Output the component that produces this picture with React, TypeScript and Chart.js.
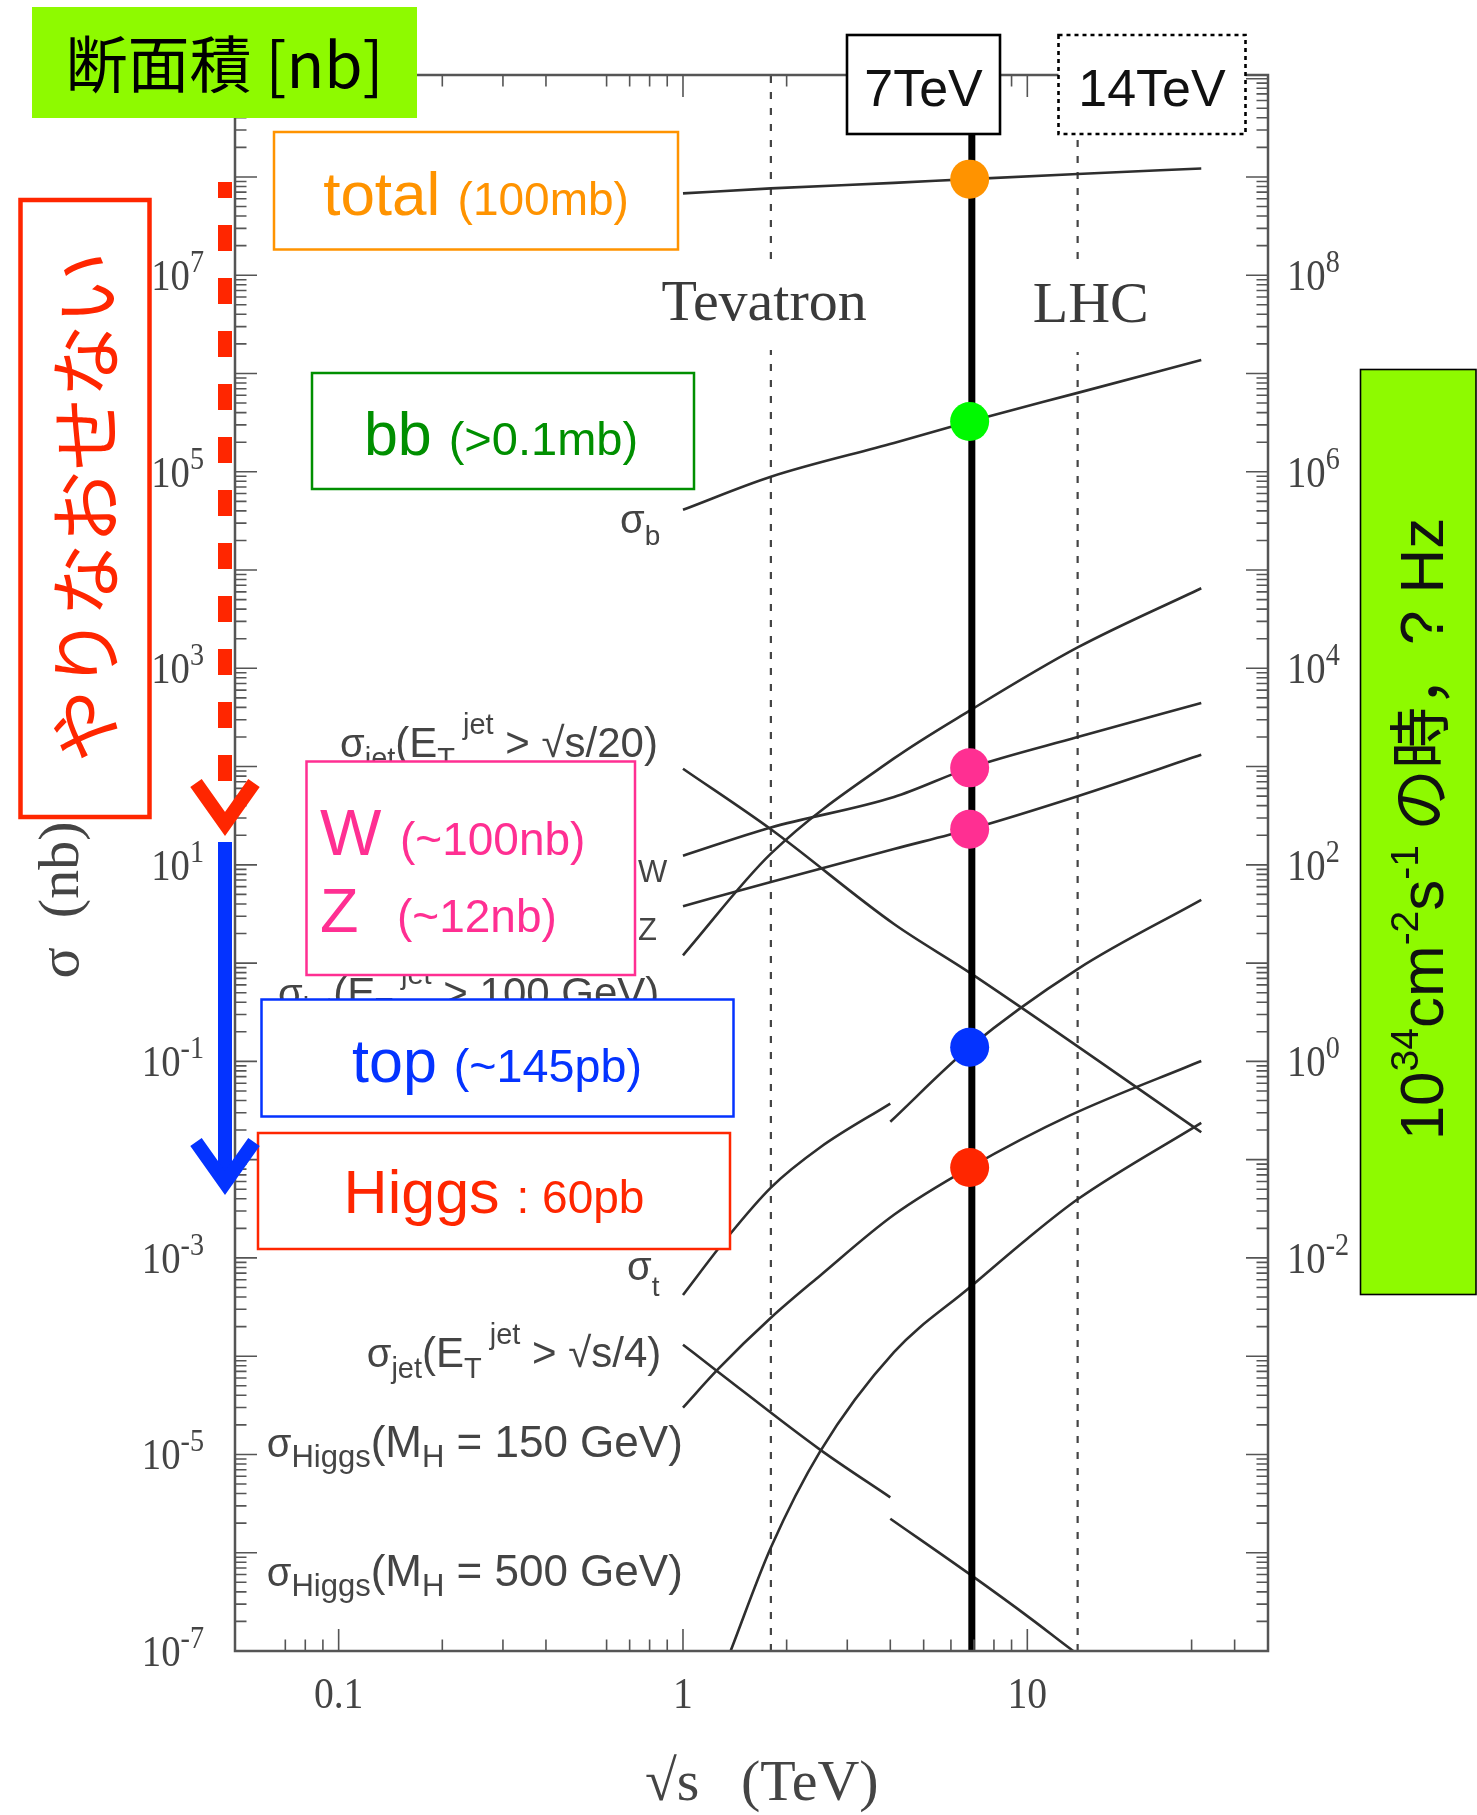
import React, { useEffect, useRef } from 'react';
import { Chart, registerables } from 'chart.js';

Chart.register(...registerables);

const W = 1477;
const H = 1815;

// ---------- axes ----------
const X_MIN = 0.05;
const X_MAX = 50;
const Y_MIN = 1e-7;
const Y_MAX = 1.09e9;
const xTickValues = [0.07, 0.08, 0.09, 0.1, 0.2, 0.3, 0.4, 0.6, 0.7, 0.8, 0.9, 1, 2, 3, 4, 5, 6, 7, 8, 9, 10, 30, 40];
const xMajorValues = [0.1, 1, 10];
const xTickLabels = ['0.1', '1', '10'];
const yLeftLabelExps = [7, 5, 3, 1, -1, -3, -5, -7];
const yRightLabelExps = [8, 6, 4, 2, 0, -2];
const rateFactor = 10; // Hz per nb at 10^34 cm^-2 s^-1

// ---------- reference energies (TeV) ----------
const tevatronEnergy = 1.8;
const lhcDesignEnergy = 14;
const lhcRunEnergy = 6.9;

// ---------- cross-section curves (sqrt(s) in TeV, sigma in nb) ----------
const totalX = [1, 1.8, 4.1, 6.8, 14, 32];
const totalY = [6.8e7, 7.65e7, 8.7e7, 9.5e7, 1.07e8, 1.22e8];

const bottomX = [1, 1.8, 4.1, 6.8, 14, 32];
const bottomY = [4.1e4, 8.9e4, 1.96e5, 3.24e5, 6.35e5, 1.37e6];

const jetLowX = [1, 1.8, 4.1, 6.8, 32];
const jetLowY = [95, 23, 2.5, 0.8, 0.019];

const wX = [1, 1.8, 4.1, 6.8, 14, 32];
const wY = [12.4, 24, 49, 97, 200, 444];

const zX = [1, 1.8, 4.1, 6.8, 14, 32];
const zY = [3.8, 6.7, 14.5, 23, 50, 132];

const jet100X = [1, 1.8, 4.1, 6.8, 14, 32];
const jet100Y = [1.2, 13, 121, 371, 1630, 6530];

const topPpbarX = [1, 1.33, 1.8, 2.5, 4.0];
const topPpbarY = [4.2e-4, 1.54e-3, 5.2e-3, 0.0133, 0.0372];
const topPpX = [4.0, 6.8, 14, 32];
const topPpY = [0.0243, 0.139, 0.87, 4.4];

const jetHighPpbarX = [1, 1.26, 2.5, 4.0];
const jetHighPpbarY = [1.31e-4, 7.0e-5, 1.12e-5, 3.66e-6];
const jetHighPpX = [4.0, 6.8, 10.3, 13.3, 16];
const jetHighPpY = [2.22e-6, 6.05e-7, 2.1e-7, 1.06e-7, 6.6e-8];

const higgs150X = [1, 1.26, 1.8, 2.5, 4.1, 6.8, 13.3, 32];
const higgs150Y = [3.0e-5, 7.3e-5, 2.46e-4, 6.6e-4, 2.75e-3, 8.3e-3, 0.0282, 0.101];

const higgs500X = [1.32, 1.375, 1.8, 2.5, 4.1, 6.8, 10, 14, 32];
const higgs500Y = [6.9e-8, 1e-7, 1.13e-6, 1.07e-5, 1.1e-4, 5.0e-4, 1.57e-3, 3.95e-3, 0.0237];

// ---------- markers at 7 TeV ----------
const dotEnergy = 6.8;
const dotValues = [9.5e7, 3.24e5, 97, 23, 0.139, 8.3e-3];
const dotColors = ['#FF9300', '#00F900', '#FF2F92', '#FF2F92', '#0433FF', '#FF2600'];

// ---------- styling ----------
const SANS = '"Liberation Sans", Arial, Helvetica, sans-serif';
const SERIF = '"Liberation Serif", "Times New Roman", serif';
const CJK = '"Noto Sans CJK JP", "Noto Sans CJK SC", sans-serif';
const ORANGE = '#FF9300';
const CLOVER = '#008F00';
const PINK = '#FF2F92';
const BLUE = '#0433FF';
const RED = '#FF2600';
const LIME = '#8EFA00';
const GREY = '#444';
const CURVE = '#2e2e2e';

const pts = (xs: number[], ys: number[]) => xs.map((x, i) => ({ x, y: ys[i] }));

type Seg = { t: string; size: number; fam?: string; dy?: number; dx?: number; c?: string };

function rich(ctx: any, x: number, y: number, segs: Seg[], align: string, color: string, fam: string = SANS) {
  ctx.textAlign = 'left';
  ctx.textBaseline = 'alphabetic';
  const widths = segs.map((s) => {
    ctx.font = `${s.size}px ${s.fam || fam}`;
    return ctx.measureText(s.t).width + (s.dx || 0);
  });
  const total = widths.reduce((a, b) => a + b, 0);
  let cx = align === 'center' ? x - total / 2 : align === 'right' ? x - total : x;
  segs.forEach((s, i) => {
    ctx.font = `${s.size}px ${s.fam || fam}`;
    ctx.fillStyle = s.c || color;
    ctx.fillText(s.t, cx + (s.dx || 0), y + (s.dy || 0));
    cx += widths[i];
  });
}

function powLabel(ctx: any, x: number, y: number, exp: number, align: string) {
  ctx.save();
  ctx.translate(x, y);
  ctx.scale(0.88, 1);
  rich(ctx, 0, 0, [
    { t: '10', size: 44 },
    { t: String(exp), size: 32, dy: -18 },
  ], align, GREY, SERIF);
  ctx.restore();
}

function box(ctx: any, x1: number, y1: number, x2: number, y2: number, stroke: string, lw: number, fill = '#fff', dash: number[] = []) {
  ctx.fillStyle = fill;
  ctx.fillRect(x1, y1, x2 - x1, y2 - y1);
  if (stroke) {
    ctx.setLineDash(dash);
    ctx.strokeStyle = stroke;
    ctx.lineWidth = lw;
    ctx.strokeRect(x1, y1, x2 - x1, y2 - y1);
    ctx.setLineDash([]);
  }
}

function jetLabel(ctx: any, x: number, y: number, tail: string) {
  rich(ctx, x, y, [
    { t: 'σ', size: 40 },
    { t: 'jet', size: 29, dy: 11 },
    { t: '(E', size: 42 },
    { t: 'T', size: 29, dy: 11 },
    { t: 'jet', size: 29, dy: -23, dx: 8 },
    { t: tail, size: 42 },
  ], 'left', GREY);
}

function higgsLabel(ctx: any, x: number, y: number, tail: string) {
  rich(ctx, x, y, [
    { t: 'σ', size: 40 },
    { t: 'Higgs', size: 31, dy: 10 },
    { t: '(M', size: 44 },
    { t: 'H', size: 31, dy: 10 },
    { t: tail, size: 44 },
  ], 'left', GREY);
}

const overlay = {
  id: 'overlay',
  afterDatasetsDraw(chart: any) {
    const ctx = chart.ctx;
    const xs = chart.scales.x;
    const ys = chart.scales.y;
    const ca = chart.chartArea;
    const px = (v: number) => xs.getPixelForValue(v);
    const py = (v: number) => ys.getPixelForValue(v);
    ctx.save();

    // collider labels (white backing interrupts dashed lines)
    ctx.fillStyle = '#fff';
    ctx.fillRect(655, 268, 230, 82);
    ctx.fillRect(1025, 268, 132, 84);
    rich(ctx, 661.5, 320, [{ t: 'Tevatron', size: 58 }], 'left', '#3a3a3a', SERIF);
    rich(ctx, 1032.7, 322, [{ t: 'LHC', size: 58 }], 'left', '#3a3a3a', SERIF);

    // frame
    ctx.strokeStyle = '#555';
    ctx.lineWidth = 2.5;
    ctx.strokeRect(ca.left, ca.top, ca.right - ca.left, ca.bottom - ca.top);

    // ticks (inward)
    ctx.lineWidth = 1.6;
    ctx.beginPath();
    xTickValues.forEach((v) => {
      const X = px(v);
      const len = xMajorValues.includes(v) ? 22 : 11.5;
      ctx.moveTo(X, ca.bottom);
      ctx.lineTo(X, ca.bottom - len);
      ctx.moveTo(X, ca.top);
      ctx.lineTo(X, ca.top + len);
    });
    for (let e = -7; e <= 9; e++) {
      for (let m = 1; m <= 9; m++) {
        const v = m * Math.pow(10, e);
        if (v < Y_MIN * 0.999 || v > Y_MAX) continue;
        const Y = py(v);
        const len = m === 1 ? 22 : 11.5;
        ctx.moveTo(ca.left, Y);
        ctx.lineTo(ca.left + len, Y);
        ctx.moveTo(ca.right, Y);
        ctx.lineTo(ca.right - len, Y);
      }
    }
    ctx.stroke();

    // tick labels
    yLeftLabelExps.forEach((e) => powLabel(ctx, 204, py(Math.pow(10, e)) + 15, e, 'right'));
    yRightLabelExps.forEach((e) => powLabel(ctx, 1287, py(Math.pow(10, e) / rateFactor) + 15, e, 'left'));
    xMajorValues.forEach((v, i) => {
      ctx.save();
      ctx.translate(px(v), 1708);
      ctx.scale(0.9, 1);
      rich(ctx, 0, 0, [{ t: xTickLabels[i], size: 44 }], 'center', GREY, SERIF);
      ctx.restore();
    });

    // axis titles
    rich(ctx, 645, 1800, [{ t: '√s', size: 58 }], 'left', GREY, SERIF);
    rich(ctx, 741, 1800, [{ t: '(TeV)', size: 58 }], 'left', GREY, SERIF);
    ctx.save();
    ctx.translate(78, 900);
    ctx.rotate(-Math.PI / 2);
    rich(ctx, 0, 0, [{ t: 'σ  (nb)', size: 58 }], 'center', GREY, SERIF);
    ctx.restore();

    // curve labels
    rich(ctx, 620, 533, [{ t: 'σ', size: 40 }, { t: 'b', size: 28, dy: 12 }], 'left', GREY);
    jetLabel(ctx, 340, 757, ' > √s/20)');
    rich(ctx, 638, 882, [{ t: 'W', size: 31 }], 'left', GREY);
    rich(ctx, 638, 940, [{ t: 'Z', size: 31 }], 'left', GREY);
    jetLabel(ctx, 278, 1007, ' > 100 GeV)');
    rich(ctx, 627, 1280, [{ t: 'σ', size: 40 }, { t: 't', size: 28, dy: 16 }], 'left', GREY);
    jetLabel(ctx, 366.7, 1367, ' > √s/4)');
    higgsLabel(ctx, 266.7, 1457, ' = 150 GeV)');
    higgsLabel(ctx, 266.7, 1586, ' = 500 GeV)');

    // annotation boxes
    box(ctx, 274, 132, 678, 249.5, ORANGE, 2.5);
    rich(ctx, 476, 215, [{ t: 'total ', size: 62 }, { t: '(100mb)', size: 46 }], 'center', ORANGE);

    box(ctx, 312, 373, 694, 489, CLOVER, 2.5);
    rich(ctx, 501, 455, [{ t: 'bb ', size: 61 }, { t: '(>0.1mb)', size: 47 }], 'center', CLOVER);

    box(ctx, 306.5, 761.5, 635, 975, PINK, 2.5);
    rich(ctx, 320, 855, [{ t: 'W', size: 65 }], 'left', PINK);
    rich(ctx, 400, 855, [{ t: '(~100nb)', size: 46 }], 'left', PINK);
    rich(ctx, 320, 932, [{ t: 'Z', size: 63 }], 'left', PINK);
    rich(ctx, 397, 932, [{ t: '(~12nb)', size: 46 }], 'left', PINK);

    box(ctx, 261.5, 999.5, 733.5, 1116.5, BLUE, 2.5);
    rich(ctx, 497, 1082, [{ t: 'top ', size: 61 }, { t: '(~145pb)', size: 46.7 }], 'center', BLUE);

    box(ctx, 258, 1133, 730, 1249, RED, 2.5);
    rich(ctx, 494, 1213, [{ t: 'Higgs ', size: 61 }, { t: ': 60pb', size: 46 }], 'center', RED);

    // "やりなおせない" box
    box(ctx, 20.5, 200, 149.5, 817, RED, 4.5);
    ctx.save();
    ctx.translate(85, 507);
    ctx.rotate(-Math.PI / 2);
    ctx.font = `73px ${CJK}`;
    ctx.fillStyle = RED;
    ctx.textAlign = 'center';
    ctx.textBaseline = 'middle';
    ctx.fillText('やりなおせない', 0, 0);
    ctx.restore();

    // arrows
    ctx.lineCap = 'butt';
    ctx.lineJoin = 'miter';
    ctx.lineWidth = 14;
    ctx.strokeStyle = RED;
    ctx.setLineDash([26, 27]);
    ctx.lineDashOffset = 10;
    ctx.beginPath();
    ctx.moveTo(225, 182);
    ctx.lineTo(225, 795);
    ctx.stroke();
    ctx.setLineDash([]);
    ctx.lineDashOffset = 0;
    ctx.beginPath();
    ctx.moveTo(196, 783);
    ctx.lineTo(225, 824);
    ctx.lineTo(254, 783);
    ctx.stroke();

    ctx.strokeStyle = BLUE;
    ctx.beginPath();
    ctx.moveTo(225, 842);
    ctx.lineTo(225, 1178);
    ctx.stroke();
    ctx.beginPath();
    ctx.moveTo(196, 1142);
    ctx.lineTo(225, 1183);
    ctx.lineTo(254, 1142);
    ctx.stroke();

    // header label
    box(ctx, 32, 7, 417, 118, '', 0, LIME);
    ctx.font = `62px ${CJK}`;
    ctx.fillStyle = '#000';
    ctx.textAlign = 'center';
    ctx.textBaseline = 'middle';
    ctx.fillText('断面積 [nb]', 224.5, 64);

    // energy boxes
    box(ctx, 847, 35, 1000, 134, '#000', 2.6);
    rich(ctx, 923.5, 106, [{ t: '7TeV', size: 52 }], 'center', '#111');
    box(ctx, 1058.5, 35, 1245.5, 134, '#000', 2.6, '#fff', [4, 4]);
    rich(ctx, 1152, 106, [{ t: '14TeV', size: 52 }], 'center', '#111');

    // right rate box
    box(ctx, 1360.5, 369.5, 1476, 1294.5, '#000', 1.6, LIME);
    ctx.save();
    ctx.translate(1443, 829);
    ctx.rotate(-Math.PI / 2);
    rich(ctx, 0, 0, [
      { t: '10', size: 62 },
      { t: '34', size: 39, dy: -25 },
      { t: 'cm', size: 62 },
      { t: '-2', size: 39, dy: -25 },
      { t: 's', size: 62 },
      { t: '-1', size: 39, dy: -25 },
      { t: ' の時', size: 62, fam: CJK },
      { t: '，', size: 62, fam: CJK },
      { t: '? Hz', size: 62 },
    ], 'center', '#111');
    ctx.restore();

    ctx.restore();
  },
};

const curveStyle = {
  borderColor: CURVE,
  borderWidth: 2.6,
  pointRadius: 0,
  fill: false,
  cubicInterpolationMode: 'monotone',
  order: 2,
};

const vline = (x: number, color: string, width: number, dash: number[], order: number) => ({
  data: [{ x, y: Y_MIN }, { x, y: Y_MAX }],
  borderColor: color,
  borderWidth: width,
  borderDash: dash,
  pointRadius: 0,
  fill: false,
  order,
});

export default function App() {
  const ref = useRef<HTMLCanvasElement>(null);
  useEffect(() => {
    const canvas = ref.current as HTMLCanvasElement;
    const datasets: any[] = [
      {
        data: dotValues.map((y) => ({ x: dotEnergy, y })),
        showLine: false,
        pointRadius: 19.5,
        pointBackgroundColor: dotColors,
        pointBorderColor: dotColors,
        pointBorderWidth: 0,
        order: 0,
      },
      vline(lhcRunEnergy, '#000', 7, [], 1),
      { ...curveStyle, data: pts(totalX, totalY) },
      { ...curveStyle, data: pts(bottomX, bottomY) },
      { ...curveStyle, data: pts(jetLowX, jetLowY) },
      { ...curveStyle, data: pts(wX, wY) },
      { ...curveStyle, data: pts(zX, zY) },
      { ...curveStyle, data: pts(jet100X, jet100Y) },
      { ...curveStyle, data: pts(topPpbarX, topPpbarY) },
      { ...curveStyle, data: pts(topPpX, topPpY) },
      { ...curveStyle, data: pts(jetHighPpbarX, jetHighPpbarY) },
      { ...curveStyle, data: pts(jetHighPpX, jetHighPpY) },
      { ...curveStyle, data: pts(higgs150X, higgs150Y) },
      { ...curveStyle, data: pts(higgs500X, higgs500Y) },
      vline(tevatronEnergy, '#444', 2.2, [7, 9], 3),
      vline(lhcDesignEnergy, '#444', 2.2, [7, 9], 3),
    ];
    const chart = new Chart(canvas, {
      type: 'line',
      data: { datasets },
      options: {
        animation: false,
        responsive: false,
        devicePixelRatio: 1,
        events: [],
        layout: { padding: { left: 235, right: W - 1268, top: 75, bottom: H - 1651 } },
        plugins: { legend: { display: false }, tooltip: { enabled: false }, title: { display: false } },
        scales: {
          x: { type: 'logarithmic', min: X_MIN, max: X_MAX, display: false },
          y: { type: 'logarithmic', min: Y_MIN, max: Y_MAX, display: false },
        },
      } as any,
      plugins: [overlay as any],
    });
    return () => chart.destroy();
  }, []);
  return (
    <div style={{ position: 'absolute', left: 0, top: 0, width: W, height: H, background: '#fff' }}>
      <canvas ref={ref} width={W} height={H} style={{ display: 'block', width: W, height: H }} />
    </div>
  );
}
